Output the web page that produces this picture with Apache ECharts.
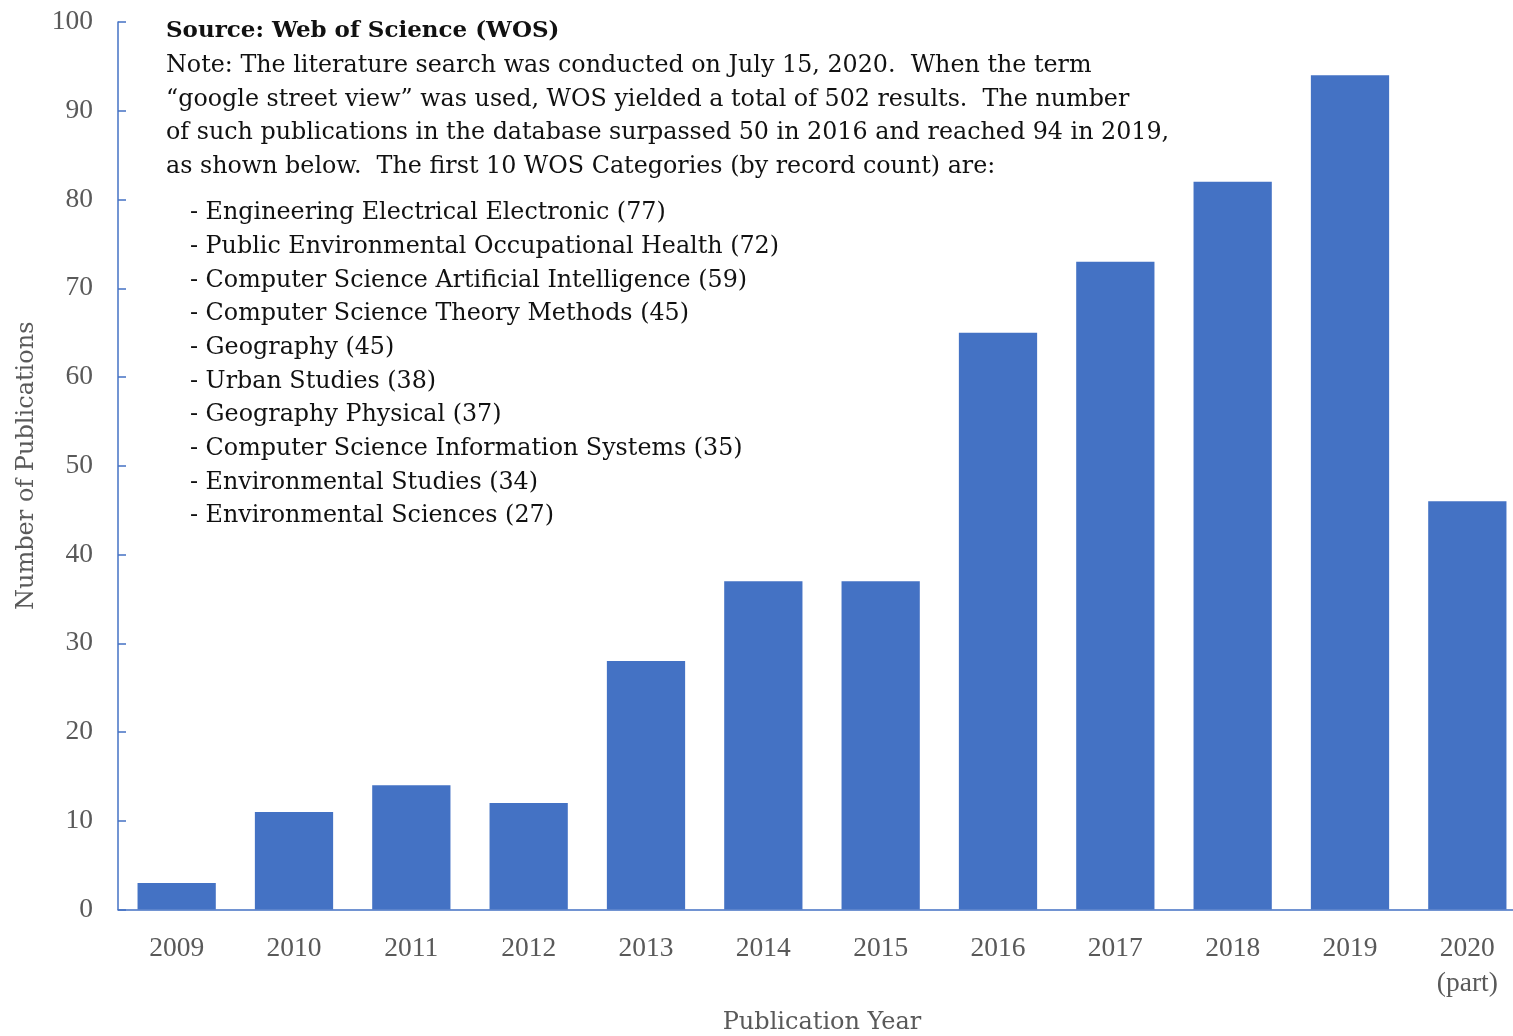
<!DOCTYPE html>
<html>
<head>
<meta charset="utf-8">
<script src="https://cdn.jsdelivr.net/npm/echarts@6/dist/echarts.min.js"></script>
<style>
html,body{margin:0;padding:0;background:#fff;overflow:hidden;}
#chart{width:1526px;height:1036px;}
</style>
</head>
<body>
<div id="chart"></div>
<script>
const years = ['2009','2010','2011','2012','2013','2014','2015','2016','2017','2018','2019','2020\n(part)'];
const publications = [3, 11, 14, 12, 28, 37, 37, 65, 73, 82, 94, 46];
const yTicks = [0, 10, 20, 30, 40, 50, 60, 70, 80, 90, 100];
const sourceLine = 'Source: Web of Science (WOS)';
const noteLines = [
  'Note: The literature search was conducted on July 15, 2020.  When the term',
  '\u201cgoogle street view\u201d was used, WOS yielded a total of 502 results.  The number',
  'of such publications in the database surpassed 50 in 2016 and reached 94 in 2019,',
  'as shown below.  The first 10 WOS Categories (by record count) are:'
];
const wosCategories = [
  '- Engineering Electrical Electronic (77)',
  '- Public Environmental Occupational Health (72)',
  '- Computer Science Artificial Intelligence (59)',
  '- Computer Science Theory Methods (45)',
  '- Geography (45)',
  '- Urban Studies (38)',
  '- Geography Physical (37)',
  '- Computer Science Information Systems (35)',
  '- Environmental Studies (34)',
  '- Environmental Sciences (27)'
];

const FONT = '"DejaVu Serif", "Liberation Serif", serif';
const TICKFONT = '"Liberation Serif", "DejaVu Serif", serif';
const BLUE = '#4472C4';
const GREY = '#595959';
const TXT = '#111111';
const FS = 23.8;

const graphics = [];
graphics.push({type:'text', left:166, top:30 - 10, style:{text:sourceLine, font:'bold 23px ' + FONT, fill:TXT}});
noteLines.forEach((t, i) => {
  graphics.push({type:'text', left:166, top:64 + i*33.5 - 10, style:{text:t, font:FS + 'px ' + FONT, fill:TXT}});
});
wosCategories.forEach((t, i) => {
  graphics.push({type:'text', left:190, top:211 + i*33.7 - 10, style:{text:t, font:FS + 'px ' + FONT, fill:TXT}});
});

const chart = echarts.init(document.getElementById('chart'), null, {renderer:'canvas'});
chart.setOption({
  animation:false,
  backgroundColor:'#fff',
  grid:{left:118, right:0, top:22, bottom:126.5, containLabel:false, outerBoundsMode:'none'},
  xAxis:{
    type:'category',
    data:years,
    name:'Publication Year',
    nameLocation:'middle',
    nameGap:101,
    nameTextStyle:{fontFamily:FONT, fontSize:24, color:GREY},
    axisLine:{lineStyle:{color:BLUE, width:1.5}},
    axisTick:{inside:true, length:8, lineStyle:{color:BLUE, width:1.5}},
    axisLabel:{fontFamily:TICKFONT, fontSize:27.5, color:GREY, margin:22, lineHeight:35, interval:0}
  },
  yAxis:{
    type:'value',
    min:yTicks[0], max:yTicks[yTicks.length-1], interval:10,
    name:'Number of Publications',
    nameLocation:'middle',
    nameGap:79,
    nameTextStyle:{fontFamily:FONT, fontSize:24, color:GREY},
    axisLine:{show:true, lineStyle:{color:BLUE, width:1.5}},
    axisTick:{show:true, inside:true, length:8, lineStyle:{color:BLUE, width:1.5}},
    axisLabel:{fontFamily:TICKFONT, fontSize:27.5, color:GREY, margin:25},
    splitLine:{show:false}
  },
  series:[{
    type:'bar',
    data:publications,
    barCategoryGap:'33.3%',
    itemStyle:{color:BLUE}
  }],
  graphic:graphics
});
</script>
</body>
</html>
